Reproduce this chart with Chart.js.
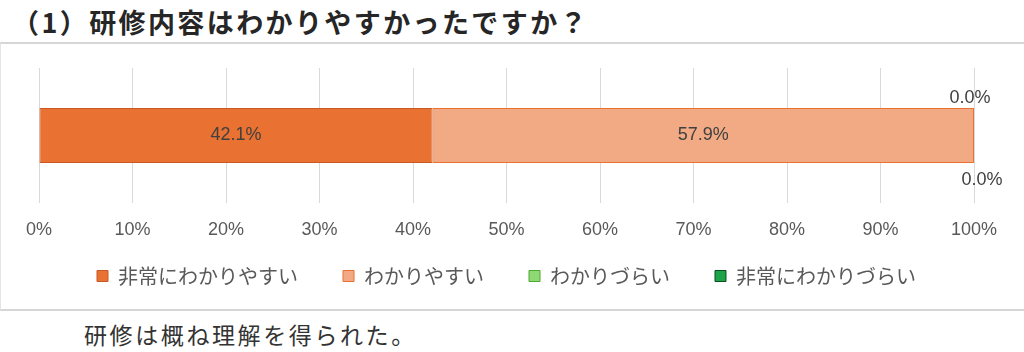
<!DOCTYPE html>
<html lang="ja">
<head>
<meta charset="utf-8">
<script src="https://cdn.jsdelivr.net/npm/chart.js@4.4.1/dist/chart.umd.min.js"></script>
<style>
  html, body { margin: 0; padding: 0; background: #ffffff; }
  body { width: 1024px; height: 352px; position: relative; overflow: hidden; font-family: "Noto Sans CJK JP", sans-serif; }
  #title { position: absolute; left: 12px; top: 4px; font-size: 27px; font-weight: bold; color: #262626; letter-spacing: 2.4px; line-height: 36px; white-space: nowrap; }
  #box { position: absolute; left: 0; top: 42px; width: 1030px; height: 269px; border-top: 2px solid #d6d6d6; border-bottom: 2px solid #d6d6d6; border-left: 1px solid #e4e4e4; box-sizing: border-box; }
  #wrap { position: absolute; left: 0; top: 43px; width: 1024px; height: 268px; }
  #note { position: absolute; left: 84px; top: 317px; font-size: 23px; color: #333333; letter-spacing: 2.6px; line-height: 34px; white-space: nowrap; }
</style>
</head>
<body>
<div id="title">（1）研修内容はわかりやすかったですか？</div>
<div id="box"></div>
<div id="wrap"><canvas id="c" width="1024" height="268"></canvas></div>
<div id="note">研修は概ね理解を得られた。</div>
<script>
const categories = ["研修内容"];
const seriesNames = ["非常にわかりやすい", "わかりやすい", "わかりづらい", "非常にわかりづらい"];
const veryEasy = [42.1];
const easy = [57.9];
const hard = [0.0];
const veryHard = [0.0];
const xTicks = [0, 10, 20, 30, 40, 50, 60, 70, 80, 90, 100];

const fills = ["#E97132", "#F2AA84", "#8ED973", "#1BA548"];
const borders = ["#C65A22", "#E97132", "#4EA72E", "#0E4D1F"];
const values = [veryEasy, easy, hard, veryHard];

const labelPlugin = {
  id: "barLabels",
  afterDatasetsDraw(chart) {
    const ctx = chart.ctx;
    ctx.save();
    ctx.font = "18px 'Liberation Sans', Arial, sans-serif";
    ctx.fillStyle = "#404040";
    ctx.textAlign = "center";
    ctx.textBaseline = "middle";
    chart.data.datasets.forEach((ds, di) => {
      const meta = chart.getDatasetMeta(di);
      meta.data.forEach((el, i) => {
        const v = ds.data[i];
        const p = el.getProps(["x", "y", "base", "height"], true);
        const txt = v.toFixed(1) + "%";
        if (v > 0) {
          ctx.fillText(txt, (p.x + p.base) / 2, p.y);
        } else if (di === 2) {
          ctx.fillText(txt, p.x - 4, p.y - p.height / 2 - 10);
        } else {
          ctx.fillText(txt, p.x + 8, p.y + p.height / 2 + 17);
        }
      });
    });
    ctx.restore();
  }
};

const legendFitPlugin = {
  id: "legendFit",
  beforeInit(chart) {
    const lg = chart.legend;
    if (!lg) return;
    const orig = lg.fit;
    lg.fit = function () { orig.call(this); this.height = 60; };
  },
  afterLayout(chart) {
    const lg = chart.legend;
    if (!lg) return;
    lg.top = 178;
    lg.bottom = 268;
  }
};

new Chart(document.getElementById("c"), {
  type: "bar",
  data: {
    labels: categories,
    datasets: seriesNames.map((n, i) => ({
      label: n,
      data: values[i],
      backgroundColor: fills[i],
      borderColor: borders[i],
      borderWidth: 1,
      borderSkipped: false,
      categoryPercentage: 1,
      barPercentage: 0.407
    }))
  },
  options: {
    indexAxis: "y",
    responsive: false,
    animation: false,
    layout: { padding: { top: 25, left: 39, right: 50, bottom: 8 } },
    scales: {
      x: {
        stacked: true,
        min: 0, max: 100,
        afterBuildTicks(scale) { scale.ticks = xTicks.map(v => ({ value: v })); },
        afterFit(scale) { scale.height = 40; },
        grid: { color: "#d9d9d9", lineWidth: 1, drawTicks: false },
        border: { display: false },
        ticks: {
          padding: 16,
          color: "#595959",
          font: { family: "'Liberation Sans', Arial, sans-serif", size: 18 },
          callback: v => v + "%"
        }
      },
      y: { stacked: true, display: false }
    },
    plugins: {
      legend: {
        position: "bottom",
        labels: {
          boxWidth: 11, boxHeight: 11, padding: 45,
          color: "#595959",
          font: { family: "'Noto Sans CJK JP', sans-serif", size: 20 }
        }
      },
      tooltip: { enabled: false }
    }
  },
  plugins: [labelPlugin, legendFitPlugin]
});
</script>
</body>
</html>
